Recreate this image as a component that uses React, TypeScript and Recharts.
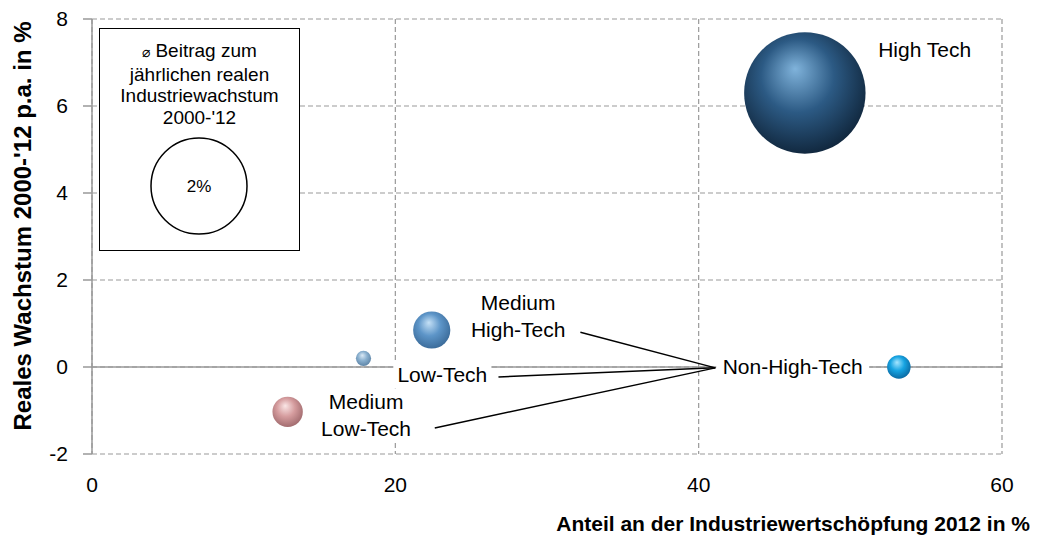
import {
  ScatterChart,
  Scatter,
  XAxis,
  YAxis,
  ZAxis,
  CartesianGrid,
  ReferenceLine,
  ReferenceDot,
  Label,
} from "recharts";

// sectors: share of industrial value added 2012 (%), real growth 2000-'12 p.a. (%),
// contribution to annual real industrial growth (bubble size, %-points)
const sectors = ["High Tech", "Medium High-Tech", "Low-Tech", "Medium Low-Tech", "Non-High-Tech"];
const shareOfValueAdded = [47.0, 22.4, 17.9, 12.9, 53.2];
const realGrowth = [6.3, 0.85, 0.2, -1.03, 0.0];
const growthContribution = [3.2, 0.3, 0.05, 0.2, 0.12];

const xTicks = [0, 20, 40, 60];
const yTicks = [-2, 0, 2, 4, 6, 8];
const legendValue = 2;

// annotation texts and where they sit (data coords)
const labelLines = [["High Tech"], ["Medium", "High-Tech"], ["Low-Tech"], ["Medium", "Low-Tech"], ["Non-High-Tech"]];
const labelAt = [
  { x: 54.9, y: 7.29 },
  { x: 28.1, y: 1.17 },
  { x: 23.1, y: -0.18 },
  { x: 18.07, y: -1.1 },
  { x: 46.2, y: 0.02 },
];
const leaderFrom = [
  { x: 32.2, y: 0.8 },
  { x: 26.8, y: -0.23 },
  { x: 22.6, y: -1.4 },
];
const leaderTo = { x: 41.1, y: -0.02 };

// highlight, body, rim
const palette = [
  ["#80b3db", "#2c5a84", "#10263c"],
  ["#c4e0f6", "#5d95c8", "#3a6a98"],
  ["#dbe9f5", "#8ab0cf", "#5d84a6"],
  ["#fae6e6", "#d59c9e", "#a06a6d"],
  ["#a6e6ff", "#17a4e2", "#0a67a0"],
];

const FONT = "'Liberation Sans', Arial, sans-serif";
const LEGEND_R = 48;
const Z_MAX = 4;

const points = sectors.map((name, i) => ({
  name,
  x: shareOfValueAdded[i],
  y: realGrowth[i],
  z: growthContribution[i],
  idx: i,
}));

const Bubble = (props: any) => {
  const { cx, cy, width, payload } = props;
  const r = width / 2;
  const c = palette[payload.idx];
  const id = "sphere" + payload.idx;
  return (
    <g>
      <defs>
        <radialGradient id={id} cx="46%" cy="42%" r="60%" fx="42%" fy="30%">
          <stop offset="0%" stopColor={c[0]} />
          <stop offset="50%" stopColor={c[1]} />
          <stop offset="100%" stopColor={c[2]} />
        </radialGradient>
      </defs>
      <circle cx={cx} cy={cy} r={r} fill={`url(#${id})`} />
    </g>
  );
};

const Annotation = (props: any) => {
  const { cx, cy, lines } = props;
  const lh = 26.5;
  const h = lines.length * lh;
  const longest = Math.max(...lines.map((l: string) => l.length));
  const w = longest * 11 + 10;
  return (
    <g>
      <rect x={cx - w / 2} y={cy - h / 2} width={w} height={h} fill="#fff" />
      {lines.map((t: string, i: number) => (
        <text
          key={i}
          x={cx}
          y={cy - h / 2 + lh * (i + 0.5)}
          textAnchor="middle"
          dominantBaseline="central"
          fontSize={21}
          fontFamily={FONT}
          fill="#000"
        >
          {t}
        </text>
      ))}
    </g>
  );
};

export default function App() {
  return (
    <div style={{ position: "absolute", left: 0, top: 0, width: 1038, height: 540, background: "#fff" }}>
      <ScatterChart width={1038} height={540} margin={{ top: 19, right: 36, left: 32, bottom: 46 }}>
        <CartesianGrid stroke="#999" strokeDasharray="5 3" strokeWidth={1.2} />
        <XAxis
          type="number"
          dataKey="x"
          domain={[0, 60]}
          ticks={xTicks}
          interval={0}
          height={40}
          axisLine={false}
          tickLine={false}
          tickMargin={17}
          tick={{ fontSize: 21, fill: "#000", fontFamily: FONT }}
        >
          <Label
            content={() => (
              <text x={1030} y={531} textAnchor="end" fontSize={21} fontWeight="bold" fontFamily={FONT} fill="#000">
                Anteil an der Industriewertschöpfung 2012 in %
              </text>
            )}
          />
        </XAxis>
        <YAxis
          type="number"
          dataKey="y"
          domain={[-2, 8]}
          ticks={yTicks}
          interval={0}
          width={60}
          stroke="#999"
          strokeWidth={1.5}
          tickSize={9}
          tickMargin={15}
          tick={{ fontSize: 21, fill: "#000", fontFamily: FONT }}
        >
          <Label
            content={() => (
              <text
                x={22}
                y={226}
                transform="rotate(-90 22 226)"
                textAnchor="middle"
                dominantBaseline="central"
                fontSize={24}
                fontWeight="bold"
                fontFamily={FONT}
                fill="#000"
              >
                Reales Wachstum 2000-'12 p.a. in %
              </text>
            )}
          />
        </YAxis>
        <ZAxis
          type="number"
          dataKey="z"
          domain={[0, Z_MAX]}
          range={[0, (Z_MAX / legendValue) * Math.PI * LEGEND_R * LEGEND_R]}
        />
        <ReferenceLine y={0} stroke="#999" strokeWidth={1.5} />
        <Scatter data={points} shape={Bubble} isAnimationActive={false} />
        {leaderFrom.map((p, i) => (
          <ReferenceLine
            key={"l" + i}
            segment={[p, leaderTo]}
            stroke="#000"
            strokeWidth={1.5}
            ifOverflow="visible"
          />
        ))}
        {labelAt.map((p, i) => (
          <ReferenceDot
            key={"a" + i}
            x={p.x}
            y={p.y}
            r={0}
            ifOverflow="visible"
            shape={(sp: any) => <Annotation cx={sp.cx} cy={sp.cy} lines={labelLines[i]} />}
          />
        ))}
      </ScatterChart>
      <div
        style={{
          position: "absolute",
          left: 99,
          top: 28,
          width: 201,
          height: 223,
          boxSizing: "border-box",
          border: "1.5px solid #000",
          background: "#fff",
          fontFamily: FONT,
          fontSize: 19,
          lineHeight: "21.7px",
          textAlign: "center",
          paddingTop: 11,
          color: "#000",
        }}
      >
        <div>
          <span style={{ fontSize: 14 }}>⌀</span> Beitrag zum
        </div>
        <div>jährlichen realen</div>
        <div>Industriewachstum</div>
        <div>2000-'12</div>
        <svg
          width={LEGEND_R * 2 + 4}
          height={LEGEND_R * 2 + 4}
          style={{ position: "absolute", left: 100.5 - LEGEND_R - 2 - 1.5, top: 158.5 - LEGEND_R - 2 - 1.5 }}
        >
          <circle cx={LEGEND_R + 2} cy={LEGEND_R + 2} r={LEGEND_R} fill="#fff" stroke="#000" strokeWidth={1.5} />
          <text
            x={LEGEND_R + 2}
            y={LEGEND_R + 2}
            textAnchor="middle"
            dominantBaseline="central"
            fontSize={17}
            fontFamily={FONT}
          >
            2%
          </text>
        </svg>
      </div>
    </div>
  );
}
